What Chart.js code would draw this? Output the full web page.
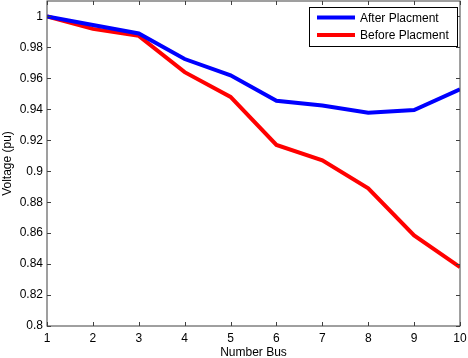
<!DOCTYPE html>
<html lang="en">
<head>
    <meta charset="utf-8" />
    <title>Voltage profile</title>
    <script src="https://cdn.jsdelivr.net/npm/chart.js@4.4.1/dist/chart.umd.min.js"></script>
    <style>
        html, body { margin: 0; padding: 0; background: #fff; }
        #wrap { width: 468px; height: 358px; }
    </style>
</head>
<body>
    <div id="wrap"><canvas id="voltChart" width="468" height="358"></canvas></div>

    <script>
        // bus numbers and per-unit voltages
        const buses = [1, 2, 3, 4, 5, 6, 7, 8, 9, 10];
        const afterPlacement = [1.0, 0.9945, 0.989, 0.9725, 0.962, 0.9455, 0.9425, 0.9378, 0.9395, 0.953];
        const beforePlacement = [1.0, 0.992, 0.9875, 0.964, 0.948, 0.917, 0.907, 0.889, 0.8585, 0.838];
        const yTicks = [0.8, 0.82, 0.84, 0.86, 0.88, 0.9, 0.92, 0.94, 0.96, 0.98, 1];

        const axisColor = "#404040";
        const font = { family: "Liberation Sans, Arial, sans-serif", size: 12 };

        // matlab style: box round the axes, ticks pointing inward
        const boxTicks = {
            id: "boxTicks",
            afterDraw(chart) {
                const ctx = chart.ctx;
                const a = chart.chartArea;
                const xs = chart.scales.x, ys = chart.scales.y;
                ctx.save();
                ctx.strokeStyle = axisColor;
                ctx.lineWidth = 1;
                ctx.strokeRect(a.left, a.top, a.right - a.left, a.bottom - a.top);
                ctx.beginPath();
                xs.ticks.forEach((t) => {
                    let px = Math.round(xs.getPixelForValue(t.value)) + 0.5;
                    ctx.moveTo(px, a.bottom); ctx.lineTo(px, a.bottom - 4);
                    ctx.moveTo(px, a.top); ctx.lineTo(px, a.top + 4);
                });
                ys.ticks.forEach((t) => {
                    let py = Math.round(ys.getPixelForValue(t.value)) + 0.5;
                    ctx.moveTo(a.left, py); ctx.lineTo(a.left + 4, py);
                    ctx.moveTo(a.right, py); ctx.lineTo(a.right - 4, py);
                });
                ctx.stroke();

                // legend box
                const lx = 309, ly = 7, lw = 148, lh = 39;
                ctx.fillStyle = "#fff";
                ctx.fillRect(lx, ly, lw, lh);
                ctx.strokeStyle = "#000";
                ctx.strokeRect(lx + 0.5, ly + 0.5, lw, lh);
                ctx.font = "12px " + font.family;
                ctx.textBaseline = "middle";
                chart.data.datasets.forEach((ds, i) => {
                    let yy = ly + 10.5 + i * 17.5;
                    ctx.strokeStyle = ds.borderColor;
                    ctx.lineWidth = 4;
                    ctx.beginPath();
                    ctx.moveTo(lx + 8, yy); ctx.lineTo(lx + 46, yy);
                    ctx.stroke();
                    ctx.fillStyle = "#000";
                    ctx.fillText(ds.label, lx + 51, yy + 1);
                });
                ctx.restore();
            },
        };

        let noPad = (s) => {
            s.paddingTop = 0; s.paddingBottom = 0;
            s.paddingLeft = 0; s.paddingRight = 0;
        };

        new Chart(document.getElementById("voltChart"), {
            type: "line",
            data: {
                datasets: [
                    {
                        label: "After Placment",
                        data: buses.map((b, i) => ({ x: b, y: afterPlacement[i] })),
                        borderColor: "#0000ff",
                        borderWidth: 4,
                        pointRadius: 0,
                        tension: 0,
                    },
                    {
                        label: "Before Placment",
                        data: buses.map((b, i) => ({ x: b, y: beforePlacement[i] })),
                        borderColor: "#ff0000",
                        borderWidth: 4,
                        pointRadius: 0,
                        tension: 0,
                    },
                ],
            },
            options: {
                responsive: false,
                animation: false,
                layout: { padding: { top: 1, right: 8, left: 0, bottom: 0 } },
                plugins: { legend: { display: false }, tooltip: { enabled: false } },
                scales: {
                    x: {
                        type: "linear",
                        min: 1,
                        max: 10,
                        afterBuildTicks: (s) => { s.ticks = buses.map((v) => ({ value: v })); },
                        afterFit: (s) => { s.height = 32; noPad(s); },
                        grid: { display: false, drawTicks: false },
                        border: { display: false },
                        ticks: { color: "#000", font: font, padding: 5, maxRotation: 0 },
                        title: { display: true, text: "Number Bus", color: "#000", font: font, padding: { top: 3, bottom: -2 } },
                    },
                    y: {
                        min: 0.8,
                        max: 1.01,
                        afterBuildTicks: (s) => { s.ticks = yTicks.map((v) => ({ value: v })); },
                        afterFit: (s) => { s.width = 47; noPad(s); },
                        grid: { display: false, drawTicks: false },
                        border: { display: false },
                        ticks: { color: "#000", font: font, padding: 4, callback: (v) => String(v) },
                        title: { display: true, text: "Voltage (pu)", color: "#000", font: font, padding: { top: 0, bottom: 0 } },
                    },
                },
            },
            plugins: [boxTicks],
        });
    </script>
</body>
</html>
